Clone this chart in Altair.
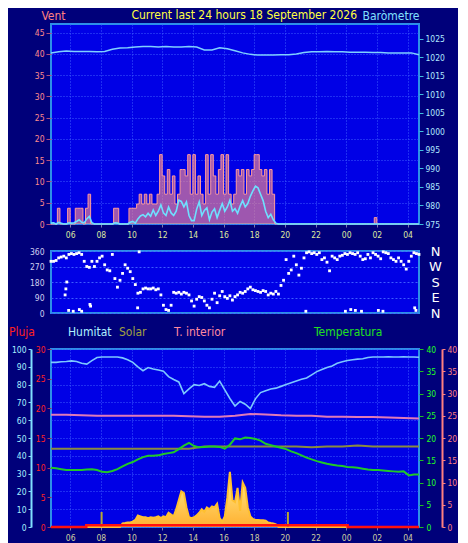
import altair as alt
import pandas as pd

# ---------------- data ----------------
START_H = 4.75          # 04:45 on 17 September (hours since midnight)
END_H = 28.75           # 04:45 on 18 September

title_text = "Current last 24 hours 18 September 2026"
legend_labels = ["Pluja", "Humitat", "Solar", "T. interior", "Temperatura"]
hour_ticks = [6, 8, 10, 12, 14, 16, 18, 20, 22, 24, 26, 28]

# 10-minute samples (145)
wind_gust = [
    0, 0, 0, 3.7, 0, 0, 0, 3.7, 0, 0,
    3.7, 3.7, 3.7, 0, 3.7, 7, 0, 0, 0, 0,
    0, 0, 0, 0, 0, 3.7, 3.7, 0, 0, 0,
    0, 3.7, 3.7, 3.7, 4.7, 7, 4.7, 7, 4.7, 7,
    4.7, 4.7, 7, 16.3, 11.3, 7, 12.8, 7, 11.3, 4.7,
    7, 12.8, 12.8, 11.3, 16.3, 7, 16.3, 7, 11.3, 7,
    4.7, 16.3, 7, 16.3, 11.3, 7, 12.8, 16.3, 7, 16.3,
    7, 4.7, 7, 12.8, 11.3, 12.8, 7, 12.8, 11.3, 12.8,
    16.3, 16.3, 12.8, 11.3, 12.8, 7, 12.8, 7, 0, 0,
    0, 0, 0, 0, 0, 0, 0, 0, 0, 0,
    0, 0, 0, 0, 0, 0, 0, 0, 0, 0,
    0, 0, 0, 0, 0, 0, 0, 0, 0, 0,
    0, 0, 0, 0, 0, 0, 0, 1.5, 0, 0,
    0, 0, 0, 0, 0, 0, 0, 0, 0, 0,
    0, 0, 0, 0, 0,
]
wind_avg = [
    0.2, 0.3, 0, 0.4, 0.2, 0, 0, 0.3, 0.2, 0.3,
    0.6, 1.0, 0.4, 0.3, 1.2, 1.8, 0.3, 0, 0, 0,
    0, 0, 0, 0, 0, 0.3, 0.2, 0, 0, 0,
    0, 0.4, 0.6, 0.2, 1.2, 1.9, 2.2, 1.7, 2.5, 1.8,
    3.3, 2.0, 3.0, 4.5, 2.6, 2.0, 4.0, 2.6, 2.0, 3.0,
    5.6, 5.3, 4.0, 5.2, 2.0, 0.8, 0.8, 3.5, 5.2, 2.0,
    3.2, 3.8, 1.0, 2.8, 3.6, 1.5, 3.2, 4.8, 3.0, 4.0,
    5.6, 3.0, 3.6, 2.5, 4.2, 5.5, 4.0, 4.8, 6.5, 7.8,
    8.9, 8.5, 7.0, 5.5, 3.0, 1.5, 2.3, 1.0, 0.2, 0,
    0, 0, 0, 0, 0, 0, 0, 0, 0, 0,
    0, 0, 0, 0, 0, 0, 0, 0, 0, 0,
    0, 0, 0, 0, 0, 0, 0, 0, 0, 0,
    0, 0, 0, 0, 0, 0, 0, 0, 0, 0,
    0, 0, 0, 0, 0, 0, 0, 0, 0, 0,
    0, 0, 0, 0, 0,
]
wind_dir = [
    300, 300, 305, 320, 325, 330, 320, 340, 345, 340,
    345, 350, 340, 300, 270, 265, 300, 270, 300, 320,
    330, 280, 250, 245, 340, 200, 150, 190, 230, 280,
    260, 240, 200, 165, 115, 120, 140, 145, 140, 140,
    145, 135, 140, 105, 45, 20, 15, 45, 120, 115,
    120, 110, 120, 115, 105, 70, 40, 80, 95, 90,
    70, 45, 30, 80, 115, 60, 100, 125, 95, 85,
    100, 75, 95, 105, 120, 115, 125, 140, 150, 135,
    130, 125, 120, 130, 125, 105, 115, 110, 125, 110,
    160, 190, 310, 230, 250, 330, 280, 220, 260, 320,
    350, 355, 345, 350, 340, 350, 310, 320, 295, 245,
    330, 320, 310, 330, 335, 345, 340, 350, 345, 340,
    350, 330, 310, 315, 340, 320, 350, 340, 330, 315,
    355, 350, 345, 320, 310, 300, 320, 300, 280, 255,
    300, 330, 350, 345, 340,
]
solar_rad = [
    0, 0, 0, 0, 0, 0, 0, 0, 0, 0,
    0, 0, 0, 0, 0, 0, 0, 0, 0, 0,
    0, 0, 0, 0, 0, 0, 0, 0, 20, 22,
    25, 25, 30, 40, 65, 60, 55, 55, 50, 55,
    52, 55, 60, 50, 60, 55, 80, 70, 60, 100,
    150, 200, 190, 110, 55, 50, 55, 65, 80, 100,
    85, 110, 100, 115, 110, 130, 50, 30, 60, 165,
    310, 150, 140, 220, 90, 250, 220, 110, 60, 45,
    40, 40, 38, 38, 35, 25, 22, 20, 15, 0,
    0, 0, 0, 0, 0, 0, 0, 0, 0, 0,
    0, 0, 0, 0, 0, 0, 0, 0, 0, 0,
    0, 0, 0, 0, 0, 0, 0, 0, 0, 0,
    0, 0, 0, 0, 0, 0, 0, 0, 0, 0,
    0, 0, 0, 0, 0, 0, 0, 0, 0, 0,
    0, 0, 0, 0, 0,
]
# isolated wind-direction dots (hour, degrees)
dir_extra_t = [5.67, 5.72, 5.78, 5.9, 6.2, 6.6, 6.75, 7.29, 7.33, 10.4, 10.5,
               21.37, 23.95, 24.3, 24.6, 25.0, 26.1, 26.4, 28.47, 28.55]
dir_extra_d = [105, 140, 180, 15, 10, 20, 10, 50, 40, 30, 355,
               10, 10, 20, 15, 10, 15, 10, 30, 15]

# 30-minute samples (49)
baro_hpa = [
    1021.2, 1021.5, 1021.7, 1021.6, 1021.6, 1021.6, 1021.5, 1021.6, 1022.2, 1022.5,
    1022.6, 1022.8, 1022.9, 1022.9, 1022.8, 1022.9, 1022.8, 1022.8, 1022.9, 1022.8,
    1022.0, 1022.0, 1022.6, 1022.3, 1021.8, 1021.2, 1020.8, 1020.6, 1020.6, 1020.6,
    1020.7, 1020.7, 1020.9, 1021.3, 1021.5, 1021.5, 1021.6, 1021.5, 1021.5, 1021.4,
    1021.4, 1021.4, 1021.3, 1021.3, 1021.2, 1021.2, 1021.2, 1021.2, 1020.7,
]
# 20-minute samples (73)
humidity = [
    92.5, 92.5, 92.8, 93.0, 93.3, 93.0, 92.0, 91.5, 93.5, 95.2,
    95.5, 95.5, 95.5, 95.5, 95.0, 94.0, 92.5, 90.0, 87.8, 89.6,
    88.8, 88.2, 87.5, 84.5, 82.9, 81.5, 74.9, 77.6, 80.0, 79.5,
    80.5, 79.0, 78.5, 82.0, 77.0, 72.2, 68.0, 70.5, 69.0, 66.5,
    72.0, 75.5, 76.6, 77.5, 78.0, 79.0, 80.0, 81.0, 82.0, 83.0,
    83.7, 85.5, 87.3, 88.5, 89.6, 90.5, 92.0, 92.8, 93.5, 94.0,
    94.3, 94.5, 95.2, 95.5, 95.5, 95.5, 95.6, 95.5, 95.5, 95.6,
    95.5, 95.5, 95.4,
]
temperature = [
    13.3, 13.2, 13.0, 12.8, 12.8, 12.8, 12.8, 12.9, 13.0, 12.8,
    12.4, 12.3, 12.6, 13.0, 13.6, 14.2, 14.6, 15.2, 15.7, 16.0,
    16.0, 16.1, 16.4, 16.6, 16.8, 17.5, 18.3, 18.9, 18.2, 17.9,
    18.0, 18.1, 18.1, 18.0, 17.6, 18.5, 19.9, 19.7, 20.1, 20.0,
    19.8, 19.4, 18.7, 18.4, 18.1, 17.8, 17.5, 17.0, 16.6, 16.1,
    15.6, 15.2, 14.8, 14.5, 14.2, 14.0, 13.8, 13.7, 13.5, 13.4,
    13.3, 13.1, 12.9, 12.8, 12.8, 12.7, 12.6, 12.5, 12.4, 12.5,
    11.6, 11.8, 11.8,
]
# hourly samples (25)
t_interior = [25.2, 25.2, 25.1, 25.0, 25.0, 25.0, 25.0, 25.0, 25.0, 24.9,
              24.8, 24.8, 25.0, 25.4, 25.3, 25.1, 25.0, 25.0, 24.8, 24.8,
              24.7, 24.7, 24.6, 24.5, 24.4]
solar_index = [17.6, 17.6, 17.6, 17.6, 17.6, 17.6, 17.6, 17.6, 17.6, 17.6,
               18.1, 18.1, 18.1, 18.1, 18.1, 18.1, 18.1, 17.9, 18.1, 18.1,
               18.3, 18.1, 18.1, 18.1, 18.1]
# rain rate change points
rain_t = [4.75, 7.05, 24.1, 28.75]
rain_mm = [0, 0.3, 0, 0]
# sunrise / sunset markers
sun_events = [8.05, 20.2]


def grid(n, step):
    return [START_H + i * step for i in range(n)]


df10 = pd.DataFrame({"t": grid(145, 1 / 6), "gust": wind_gust, "avg": wind_avg,
                     "dir": wind_dir, "solar": solar_rad})
df_extra = pd.DataFrame({"t": dir_extra_t, "dir": dir_extra_d})
df_baro = pd.DataFrame({"t": grid(49, 0.5), "p": baro_hpa})
df20 = pd.DataFrame({"t": grid(73, 1 / 3), "hum": humidity, "temp": temperature})
df60 = pd.DataFrame({"t": grid(25, 1.0), "tin": t_interior, "sol": solar_index})
df_rain = pd.DataFrame({"t": rain_t, "r": rain_mm})
df_sun = pd.DataFrame({"t": sun_events})

# ---------------- styling ----------------
FONT = "DejaVu Sans Condensed"
TFS = 11          # text size of titles / legend row
LFS = 8.5         # axis label size
W = 368
H_TOP, H_MID, H_BOT = 200, 62, 178
NAVY = "#00007a"

xscale = alt.Scale(domain=[START_H, END_H], nice=False, zero=False)


def x_enc(label_color, show=True):
    if not show:
        return alt.X("t:Q", scale=xscale, axis=None)
    return alt.X("t:Q", scale=xscale, axis=alt.Axis(
        values=hour_ticks, labelExpr="format(datum.value % 24, '02d')",
        title=None, labelColor=label_color, labelFont=FONT, labelFontSize=LFS,
        tickColor="#7a7ab0", tickSize=3, domain=False, labelPadding=3,
        grid=True, gridColor="#3d5cff", gridDash=[1, 2], gridWidth=1))


# ---- top panel: wind + barometer ----
vent_scale = alt.Scale(domain=[0, 47], nice=False, zero=True)
vent_axis = alt.Axis(values=list(range(0, 46, 5)), title="Vent", titleAngle=0,
                     titleX=2, titleY=-2, titleAlign="center", titleBaseline="bottom",
                     titleColor="#ff8080", titleFont=FONT, titleFontSize=TFS + 1,
                     titleFontWeight="normal", labelColor="#ff8c8c", labelFont=FONT,
                     labelFontSize=LFS, tickColor="#b05080", tickSize=5, domain=False,
                     labelPadding=2, grid=True, gridColor="#3d5cff", gridDash=[1, 2])
xt = x_enc("#dfe8a0")
gust_area = alt.Chart(df10).mark_area(interpolate="step", color="#ff8c8c", opacity=0.62).encode(
    x=xt, y=alt.Y("gust:Q", scale=vent_scale, axis=vent_axis))
gust_line = alt.Chart(df10).mark_line(interpolate="step", color="#ff9a9a", strokeWidth=1).encode(
    x=xt, y=alt.Y("gust:Q", scale=vent_scale, axis=vent_axis))
avg_line = alt.Chart(df10).mark_line(color="#6ee0ff", strokeWidth=1.6).encode(
    x=xt, y=alt.Y("avg:Q", scale=vent_scale, axis=vent_axis))
title_mark = alt.Chart(pd.DataFrame({"label": [title_text]})).mark_text(
    color="#ffff40", font=FONT, fontSize=TFS + 1, align="right", baseline="bottom").encode(
    text="label:N", x=alt.value(W - 62), y=alt.value(-2))
baro_line = alt.Chart(df_baro).mark_line(color="#7fd0ff", strokeWidth=1.5).encode(
    x=xt, y=alt.Y("p:Q", scale=alt.Scale(domain=[975, 1029], nice=False, zero=False),
                  axis=alt.Axis(orient="right", values=list(range(975, 1026, 5)), format="d",
                                title="Baròmetre", titleAngle=0, titleX=0, titleY=-2,
                                titleAlign="right", titleBaseline="bottom",
                                titleColor="#80e0ff", titleFont=FONT, titleFontSize=TFS + 1,
                                titleFontWeight="normal", labelColor="#b0e8ff",
                                labelFont=FONT, labelFontSize=LFS, tickColor="#40c0e0",
                                tickSize=4, domain=False, grid=False, labelPadding=2)))
top = alt.layer(alt.layer(gust_area, gust_line, avg_line, title_mark), baro_line).resolve_scale(
    y="independent").properties(width=W, height=H_TOP)

# ---- middle panel: wind direction ----
dir_scale = alt.Scale(domain=[0, 360], nice=False)
xm = x_enc("#dfe8a0", show=False)
dir_pts = alt.Chart(df10).mark_square(size=8, color="white", opacity=1).encode(
    x=xm, y=alt.Y("dir:Q", scale=dir_scale, axis=alt.Axis(
        values=[0, 90, 180, 270, 360], title=None, labelColor="#d0d0f0", labelFont=FONT,
        labelFontSize=LFS, ticks=False, domain=False, labelPadding=7, grid=True,
        gridColor="#3d5cff", gridDash=[2, 2])))
dir_extra = alt.Chart(df_extra).mark_square(size=8, color="white", opacity=1).encode(
    x=xm, y=alt.Y("dir:Q", scale=dir_scale, axis=alt.Axis(
        orient="right", values=[0, 90, 180, 270, 360], title=None,
        labelExpr="datum.value == 90 ? 'E' : datum.value == 180 ? 'S' : datum.value == 270 ? 'W' : 'N'",
        labelColor="white", labelFont="DejaVu Sans", labelFontSize=13, ticks=False,
        domain=False, grid=False, labelAlign="center", labelPadding=16)))
middle = alt.layer(dir_pts, dir_extra).resolve_axis(y="independent").properties(
    width=W, height=H_MID)

# ---- bottom panel ----
xb = x_enc("#d0d0a0")
solar_grad = alt.Gradient(gradient="linear",
                          stops=[alt.GradientStop(color="#fff090", offset=0),
                                 alt.GradientStop(color="#ffb030", offset=1)],
                          x1=1, x2=1, y1=0, y2=1)
solar_scale = alt.Scale(domain=[0, 1000], nice=False)
solar_area = alt.Chart(df10).mark_area(color=solar_grad).encode(
    x=xb, y=alt.Y("solar:Q", scale=solar_scale, axis=None))
solar_edge = alt.Chart(df10).mark_line(color="#ffc030", strokeWidth=2).encode(
    x=xb, y=alt.Y("solar:Q", scale=solar_scale, axis=None))
sun_rules = alt.Chart(df_sun).mark_rule(color="#b8a830", strokeWidth=2).encode(
    x=xb, y=alt.value(H_BOT - 15), y2=alt.value(H_BOT))
hum_line = alt.Chart(df20).mark_line(color="#7cc8ff", strokeWidth=1.6).encode(
    x=xb, y=alt.Y("hum:Q", scale=alt.Scale(domain=[0, 100], nice=False), axis=alt.Axis(
        orient="left", offset=20, values=list(range(0, 101, 10)), title=None,
        labelColor="#a8f0ff", labelFont=FONT, labelFontSize=LFS, domainColor="#80e0ff",
        domainWidth=2, tickColor="#80e0ff", tickSize=3, labelPadding=2, grid=True,
        gridColor="#3d5cff", gridDash=[1, 2])))
tin_line = alt.Chart(df60).mark_line(color="#e07ab8", strokeWidth=2).encode(
    x=xb, y=alt.Y("tin:Q", scale=alt.Scale(domain=[0, 40], nice=False), axis=alt.Axis(
        orient="right", offset=23, values=list(range(0, 41, 5)), title=None,
        labelColor="#ff8080", labelFont=FONT, labelFontSize=LFS, domainColor="#ff8080",
        domainWidth=2, tickColor="#ff8080", tickSize=3, labelPadding=2, grid=False)))
sol_line = alt.Chart(df60).mark_line(color="#8a8a40", strokeWidth=2).encode(
    x=xb, y=alt.Y("sol:Q", scale=alt.Scale(domain=[0, 40], nice=False), axis=None))
temp_line = alt.Chart(df20).mark_line(color="#20c828", strokeWidth=2).encode(
    x=xb, y=alt.Y("temp:Q", scale=alt.Scale(domain=[0, 40], nice=False), axis=alt.Axis(
        orient="right", offset=0, values=list(range(0, 41, 5)), title=None,
        labelColor="#20ff20", labelFont=FONT, labelFontSize=LFS, tickColor="#20c020",
        tickSize=4, domain=False, labelPadding=3, grid=False)))
rain_line = alt.Chart(df_rain).mark_line(interpolate="step-after", color="#ff1010",
                                         strokeWidth=2.5).encode(
    x=xb, y=alt.Y("r:Q", scale=alt.Scale(domain=[0, 30], nice=False), axis=alt.Axis(
        orient="left", offset=0, values=list(range(0, 31, 5)), title=None,
        labelColor="#ff2020", labelFont=FONT, labelFontSize=LFS, tickColor="#a03060",
        tickSize=4, domain=False, labelPadding=2, grid=False)))

legend_style = [(-42, "#ff2020"), (17, "#b0f0ff"), (68, "#a0a040"), (123, "#ff8aa0"),
                (263, "#20e020")]
legend_marks = []
for lab, (px, col) in zip(legend_labels, legend_style):
    legend_marks.append(
        alt.Chart(pd.DataFrame({"label": [lab]})).mark_text(
            color=col, font=FONT, fontSize=TFS + 1, align="left", baseline="middle").encode(
            text="label:N", x=alt.value(px), y=alt.value(-17)))

bottom = alt.layer(solar_area, solar_edge, sun_rules, hum_line, tin_line, sol_line,
                   temp_line, rain_line, *legend_marks).resolve_scale(
    y="independent").properties(width=W, height=H_BOT)

chart = alt.vconcat(top, middle, bottom, spacing=4).properties(
    background=NAVY, padding={"left": 0, "right": 0, "top": 0, "bottom": 0}
).configure_view(fill="#0000e6", stroke="#2d8fe8", strokeWidth=2
).configure_axis(labelFont=FONT, titleFont=FONT)

chart.save("out.html", embed_options={"renderer": "svg", "actions": False})
